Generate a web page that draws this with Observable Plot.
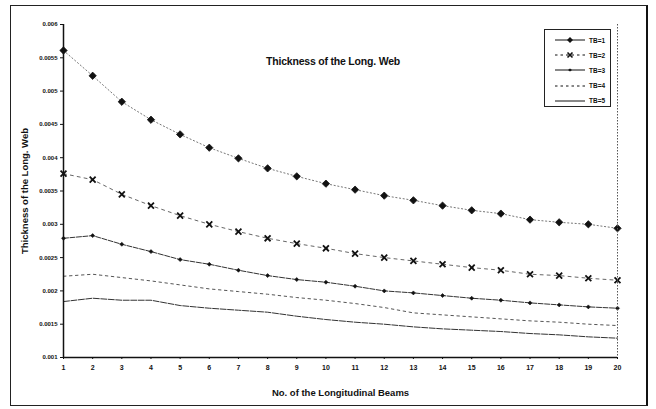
<!DOCTYPE html>
<html><head><meta charset="utf-8">
<script src="https://cdn.jsdelivr.net/npm/d3@7"></script>
<script src="https://cdn.jsdelivr.net/npm/@observablehq/plot@0.6"></script>
<style>
body{margin:0;background:#fff;}
#wrap{position:relative;width:656px;height:409px;font-family:"Liberation Sans",Arial,sans-serif;}
#frame{position:absolute;left:10px;top:5px;width:638px;height:401px;border:1px solid #222;border-right:2px solid #111;box-sizing:border-box;}
#title{position:absolute;left:266px;top:55px;font-size:10.5px;font-weight:bold;letter-spacing:-0.2px;color:#111;}
#legend{position:absolute;left:544px;top:29px;width:67px;height:78px;border:1px solid #222;background:#fff;box-sizing:border-box;font-size:6.5px;font-weight:bold;color:#111;}
.li{position:absolute;left:8px;height:10px;}
.li span{position:absolute;left:36px;top:1.5px;white-space:nowrap;}
</style></head>
<body>
<div id="wrap"><div id="frame"></div><div id="chart"></div><div id="title">Thickness of the Long. Web</div><div id="legend"></div></div>
<script>
const beams = [1,2,3,4,5,6,7,8,9,10,11,12,13,14,15,16,17,18,19,20];
const seriesNames = ["TB=1","TB=2","TB=3","TB=4","TB=5"];
const tb1 = [0.00561,0.00523,0.00484,0.00457,0.00435,0.00415,0.00399,0.00384,0.00372,0.00361,0.00352,0.00343,0.00336,0.00328,0.00321,0.00316,0.00307,0.00303,0.00300,0.00294];
const tb2 = [0.00376,0.00367,0.00345,0.00328,0.00313,0.00300,0.00289,0.00279,0.00271,0.00264,0.00256,0.00250,0.00245,0.00240,0.00235,0.00231,0.00225,0.00223,0.00219,0.00216];
const tb3 = [0.00279,0.00283,0.00270,0.00259,0.00247,0.00240,0.00231,0.00223,0.00217,0.00213,0.00207,0.00200,0.00197,0.00193,0.00189,0.00186,0.00182,0.00179,0.00176,0.00174];
const tb4 = [0.00222,0.00225,0.00220,0.00215,0.00209,0.00203,0.00199,0.00195,0.00190,0.00186,0.00181,0.00175,0.00167,0.00164,0.00161,0.00158,0.00155,0.00153,0.00150,0.00148];
const tb5 = [0.00184,0.00189,0.00186,0.00186,0.00178,0.00174,0.00171,0.00168,0.00162,0.00157,0.00153,0.00150,0.00146,0.00143,0.00141,0.00139,0.00136,0.00134,0.00131,0.00129];
const yTicks = [0.001,0.0015,0.002,0.0025,0.003,0.0035,0.004,0.0045,0.005,0.0055,0.006];

const allSeries = [tb1,tb2,tb3,tb4,tb5];
const rows = s => beams.map((b,i)=>({x:b,y:allSeries[s][i]}));
const styles = [
  {stroke:"#777",dash:"1.2,2.5",w:1},
  {stroke:"#666",dash:"3,4",w:1},
  {stroke:"#333",dash:"5,1.5",w:1},
  {stroke:"#555",dash:"2.5,3.5",w:1},
  {stroke:"#333",dash:"6,1.5",w:1}
];
const fmt = d => String(+d.toFixed(4));

const marks = [];
allSeries.forEach((_,s)=>{
  marks.push(Plot.line(rows(s),{x:"x",y:"y",stroke:styles[s].stroke,strokeDasharray:styles[s].dash,strokeWidth:styles[s].w}));
});
marks.push(Plot.dot(rows(0),{x:"x",y:"y",symbol:"diamond2",r:3.3,fill:"#111",stroke:"#111",strokeWidth:0.8}));
marks.push(Plot.dot(rows(1),{x:"x",y:"y",symbol:"times",r:2.8,stroke:"#111",strokeWidth:1.8}));
marks.push(Plot.dot(rows(2),{x:"x",y:"y",symbol:"diamond2",r:1.8,fill:"#111",stroke:"#111",strokeWidth:0.6}));
marks.push(Plot.ruleX([20],{stroke:"#555",strokeDasharray:"1.5,1.5"}));
marks.push(Plot.ruleX([1],{stroke:"#111",strokeWidth:1.5}));
marks.push(Plot.ruleY([0.001],{stroke:"#111",strokeWidth:1.5}));
marks.push(Plot.axisY({ticks:yTicks,tickFormat:fmt,tickSize:3,tickPadding:3,fontSize:6,fontWeight:"bold",label:"Thickness of the Long. Web",labelAnchor:"center",labelArrow:"none",labelOffset:42}));
marks.push(Plot.axisX({ticks:beams,tickFormat:d=>String(d),tickSize:2,tickPadding:6,fontSize:7,fontWeight:"bold",label:"No. of the Longitudinal Beams",labelAnchor:"center",labelArrow:"none",labelOffset:38}));

const chart = Plot.plot({
  width:656,height:409,
  marginLeft:63,marginRight:39,marginTop:24,marginBottom:52,
  style:{fontFamily:"'Liberation Sans',Arial,sans-serif",color:"#111",background:"transparent"},
  x:{domain:[1,20]},
  y:{domain:[0.001,0.006]},
  marks
});
chart.style.position="absolute";chart.style.left="0";chart.style.top="0";
d3.select(chart).selectAll("[aria-label='y-axis label'], [aria-label='x-axis label']").style("font-size","9.5px").style("font-weight","bold");
document.getElementById("chart").appendChild(chart);

// legend
const lg = d3.select("#legend");
seriesNames.forEach((name,s)=>{
  const it = lg.append("div").attr("class","li").style("top",(5+s*15.2)+"px");
  const sv = it.append("svg").attr("width",34).attr("height",10);
  const dash = [null,"2.5,3",null,"2.5,3",null][s];
  sv.append("line").attr("x1",2).attr("x2",32).attr("y1",5).attr("y2",5).attr("stroke","#111").attr("stroke-width",1).attr("stroke-dasharray",dash);
  if(s===0) sv.append("path").attr("d","M17,2L20,5L17,8L14,5Z").attr("fill","#111");
  if(s===1) sv.append("path").attr("d","M14.5,2.5L19.5,7.5M19.5,2.5L14.5,7.5").attr("stroke","#111").attr("stroke-width",1.6);
  if(s===2) sv.append("path").attr("d","M17,3.5L19,5L17,6.5L15,5Z").attr("fill","#111");
  it.append("span").text(name);
});
</script>
</body></html>
